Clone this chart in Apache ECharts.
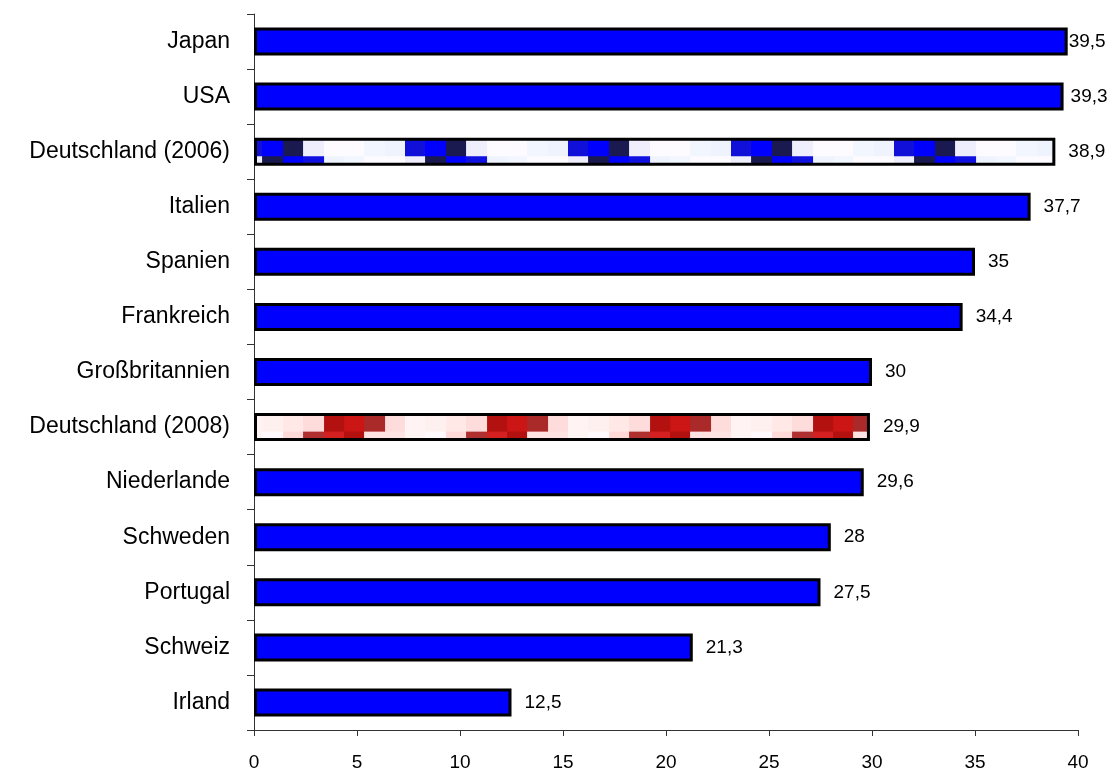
<!DOCTYPE html>
<html><head><meta charset="utf-8">
<script src="https://cdn.jsdelivr.net/npm/echarts@6/dist/echarts.min.js"></script>
<style>html,body{margin:0;padding:0;background:#fff}#c{width:1118px;height:772px}</style>
</head><body><div id="c"></div>
<script>
const categories = ['Japan','USA','Deutschland (2006)','Italien','Spanien','Frankreich','Großbritannien','Deutschland (2008)','Niederlande','Schweden','Portugal','Schweiz','Irland'];
const values = [39.5,39.3,38.9,37.7,35,34.4,30,29.9,29.6,28,27.5,21.3,12.5];
const xTicks = [0,5,10,15,20,25,30,35,40];

const blueTop = ['#1010d8','#0000ff','#1a1a50','#eeeefc','#fdfbff','#fdfbff','#f2f6fe','#eef3fd'];
const blueBot = ['#eeeefc','#1a1a50','#0000ff','#1010e0','#eef3fd','#f2f6fe','#fdfbff','#fdfbff'];
const redTop = ['#fff3f3','#fff0f0','#ffe8e5','#ffdcdc','#b31010','#cc1515','#aa2a2a','#ffdcdc'];
const redBot = ['#fff4f4','#fff8fc','#ffd8d8','#b03030','#d42020','#b31010','#ffe2e2','#ffe2e2'];

function makeTile(top, bot) {
  const c = document.createElement('canvas');
  const W = 163, H = 55, topH = 17, botH = 8;
  c.width = W; c.height = H;
  const ctx = c.getContext('2d');
  ctx.fillStyle = top[0]; ctx.fillRect(0,0,W,H);
  const colW = W / top.length;
  for (let i = 0; i < top.length; i++) {
    const x0 = Math.round(i*colW), x1 = Math.round((i+1)*colW);
    ctx.fillStyle = top[i]; ctx.fillRect(x0, 0, x1-x0, topH);
    ctx.fillStyle = bot[i]; ctx.fillRect(x0, topH, x1-x0, botH);
  }
  return c;
}
const blueTile = makeTile(blueTop, blueBot);
const redTile = makeTile(redTop, redBot);

const BAR_W = 28, BORDER = 3;
const chart = echarts.init(document.getElementById('c'), null, {renderer:'canvas'});
const font = '"Liberation Sans", Arial, sans-serif';
const labelDistance = { 'Japan': 1, 'USA': 7 };

function buildData(patOffsets) {
  return values.map((v, i) => {
    const d = { value: v };
    const cat = categories[i];
    if (patOffsets && (cat === 'Deutschland (2006)' || cat === 'Deutschland (2008)')) {
      const off = patOffsets[cat];
      d.itemStyle = { color: { image: cat === 'Deutschland (2006)' ? blueTile : redTile, repeat: 'repeat', x: off.x, y: off.y } };
    }
    if (labelDistance[cat] !== undefined) d.label = { distance: labelDistance[cat] };
    return d;
  });
}

const option = {
  animation: false,
  backgroundColor: '#fff',
  grid: { left: 254, right: 40, top: 14, bottom: 42, containLabel: false },
  xAxis: {
    type: 'value', min: 0, max: 40, interval: 5,
    axisLine: { show: true, lineStyle: { color: '#333', width: 1 } },
    axisTick: { show: true, length: 6, lineStyle: { color: '#333' } },
    splitLine: { show: false },
    axisLabel: { margin: 23, fontSize: 19, color: '#000', fontFamily: font }
  },
  yAxis: {
    type: 'category', data: categories, inverse: true,
    axisLine: { show: true, lineStyle: { color: '#333', width: 1 } },
    axisTick: { show: true, length: 7, alignWithLabel: false, lineStyle: { color: '#333' } },
    axisLabel: { margin: 24, fontSize: 23, color: '#000', fontFamily: font }
  },
  series: [{
    type: 'bar', barWidth: BAR_W,
    data: buildData(null),
    itemStyle: { color: '#0000ff', borderColor: '#000', borderWidth: BORDER },
    label: {
      show: true, position: 'right', distance: 13, fontSize: 19, color: '#000', fontFamily: font,
      formatter: p => String(p.value).replace('.', ',')
    }
  }]
};
chart.setOption(option);

const x0 = chart.convertToPixel({xAxisIndex:0}, 0);
const offs = {};
['Deutschland (2006)','Deutschland (2008)'].forEach(cat => {
  const cy = chart.convertToPixel({yAxisIndex:0}, cat);
  const innerTop = cy - BAR_W/2 + BORDER/2;
  offs[cat] = { x: x0 - 12, y: innerTop };
});
chart.setOption({ series: [{ data: buildData(offs) }] });
</script></body></html>
